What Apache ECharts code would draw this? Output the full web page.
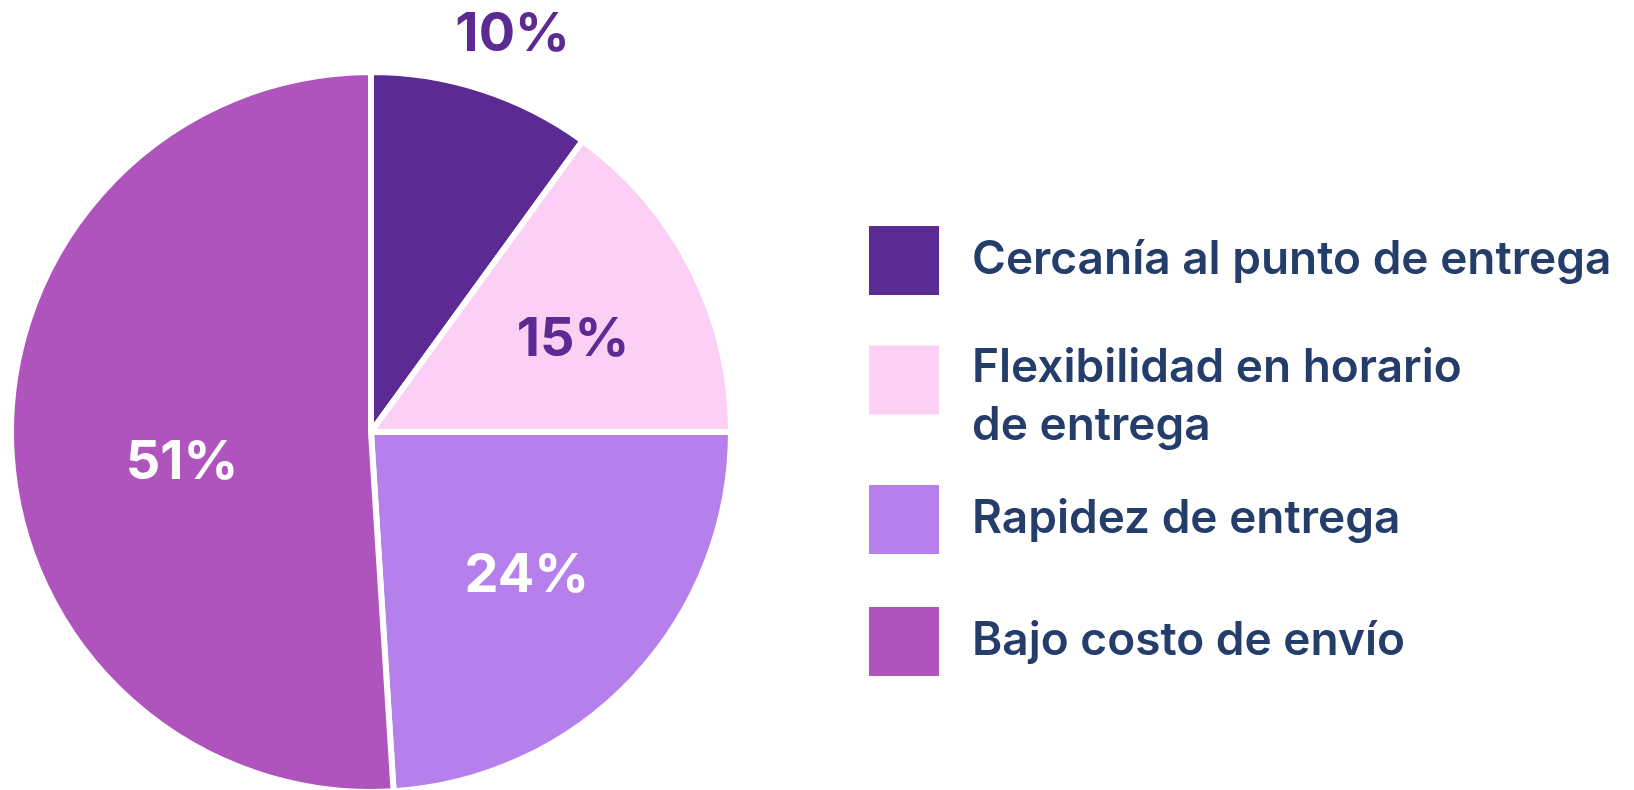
<!DOCTYPE html>
<html>
<head>
<meta charset="utf-8">
<script src="https://cdn.jsdelivr.net/npm/echarts@6/dist/echarts.min.js"></script>
<style>
  html, body { margin: 0; padding: 0; background: #ffffff; }
  #chart { width: 1634px; height: 790px; }
</style>
</head>
<body>
<div id="chart"></div>
<script>
const categories = [
  'Cercanía al punto de entrega',
  'Flexibilidad en horario\nde entrega',
  'Rapidez de entrega',
  'Bajo costo de envío'
];
const values = [10, 15, 24, 51];
const sliceColors = ['#5c2a93', '#fbd0f4', '#b680ec', '#b054bd'];
const labelColors = ['#5c2a93', '#5c2a93', '#ffffff', '#ffffff'];
// small hand placement tweaks of the percentage labels (style only)
const labelNudge = [[10, 8], [14, 4], [2, -1], [22, 24]];

const FONT = 'Inter, "Noto Sans", sans-serif';
const CENTER = [371, 432];
const TEXT_COLOR = '#253d6a';

const chart = echarts.init(document.getElementById('chart'), null, { renderer: 'canvas' });

const mainData = categories.map((name, i) => ({
  name: name,
  value: values[i],
  itemStyle: { color: sliceColors[i] }
}));

function labelData(showIdx) {
  return categories.map((name, i) => ({
    name: name,
    value: values[i],
    itemStyle: { color: 'rgba(0,0,0,0)', borderWidth: 0 },
    label: {
      show: showIdx.indexOf(i) >= 0,
      color: labelColors[i],
      offset: labelNudge[i]
    }
  }));
}

const labelStyle = {
  position: 'inside',
  formatter: '{c}%',
  fontFamily: FONT,
  fontSize: 54,
  fontWeight: 'bold'
};

const legendTops = [224, 305, 483, 605];
const legends = categories.map((name, i) => {
  const multi = name.indexOf('\n') >= 0;
  const ts = {
    fontFamily: FONT,
    fontSize: 46,
    fontWeight: 600,
    color: TEXT_COLOR,
    lineHeight: 58,
    padding: multi ? [34, 0, 0, 27] : [0, 0, 0, 27]
  };
  if (multi) {
    ts.rich = {
      t: { fontFamily: FONT, fontSize: 46, fontWeight: 600, color: TEXT_COLOR, lineHeight: 58 }
    };
  }
  return {
    data: [name],
    orient: 'vertical',
    left: 867,
    top: legendTops[i],
    padding: 0,
    icon: 'rect',
    itemWidth: 72,
    itemHeight: 71,
    selectedMode: false,
    formatter: multi
      ? function (n) { return n.split('\n').map(s => '{t|' + s + '}').join('\n'); }
      : '{name}',
    textStyle: ts
  };
});

chart.setOption({
  backgroundColor: '#ffffff',
  animation: false,
  legend: legends,
  series: [
    {
      type: 'pie',
      center: CENTER,
      radius: [0, 360],
      startAngle: 90,
      clockwise: true,
      silent: true,
      label: { show: false },
      labelLine: { show: false },
      itemStyle: { borderColor: '#ffffff', borderWidth: 6 },
      emphasis: { disabled: true },
      data: mainData
    },
    {
      type: 'pie',
      center: CENTER,
      radius: [0, 416],
      startAngle: 90,
      clockwise: true,
      silent: true,
      legendHoverLink: false,
      label: labelStyle,
      labelLine: { show: false },
      emphasis: { disabled: true },
      data: labelData([1, 2, 3])
    },
    {
      type: 'pie',
      center: CENTER,
      radius: [400, 446],
      startAngle: 90,
      clockwise: true,
      silent: true,
      legendHoverLink: false,
      label: labelStyle,
      labelLine: { show: false },
      emphasis: { disabled: true },
      data: labelData([0])
    }
  ]
});
</script>
</body>
</html>
